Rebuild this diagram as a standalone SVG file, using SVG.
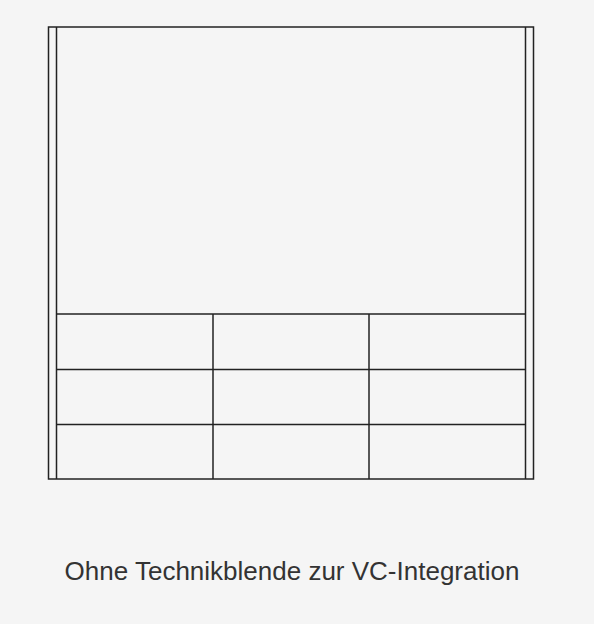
<svg xmlns="http://www.w3.org/2000/svg" width="594" height="624" viewBox="0 0 594 624">
<style>
.l{fill:none;stroke:#222;stroke-width:1.5}
.t{font-family:"Liberation Sans",Arial,sans-serif;font-size:26px;fill:#333}
</style>
<rect width="594" height="624" fill="#f5f5f5"/>
<g id="frame">
<rect class="l" x="48.5" y="27" width="485" height="452"/>
<line class="l" x1="56.5" y1="27" x2="56.5" y2="479"/>
<line class="l" x1="525.5" y1="27" x2="525.5" y2="479"/>
</g>
<g id="screen">
<line class="l" x1="56.5" y1="314" x2="525.5" y2="314"/>
</g>
<g id="grid">
<line class="l" x1="56.5" y1="369.5" x2="525.5" y2="369.5"/>
<line class="l" x1="56.5" y1="424.5" x2="525.5" y2="424.5"/>
<line class="l" x1="213" y1="314" x2="213" y2="479"/>
<line class="l" x1="369" y1="314" x2="369" y2="479"/>
</g>
<text class="t" x="292" y="580" text-anchor="middle">Ohne Technikblende zur VC-Integration</text>
</svg>
